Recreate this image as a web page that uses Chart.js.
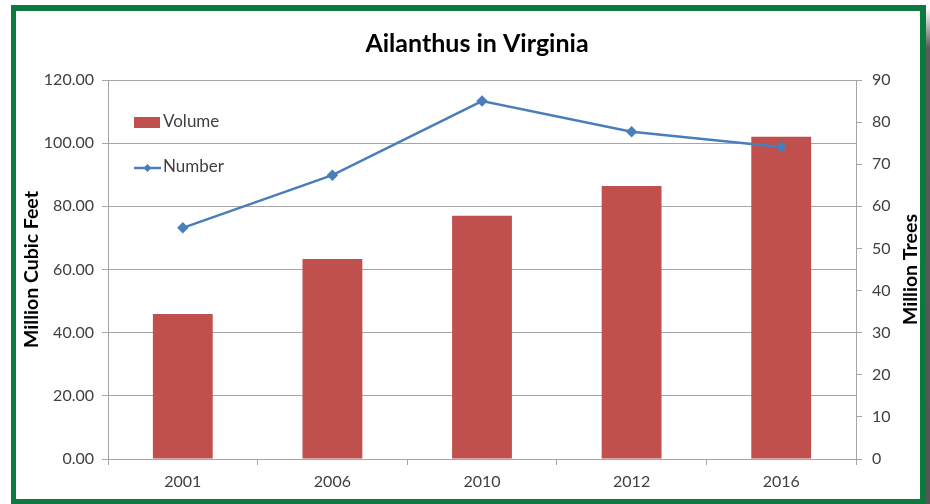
<!DOCTYPE html>
<html>
<head>
<meta charset="utf-8">
<script src="https://cdn.jsdelivr.net/npm/chart.js@4.4.1/dist/chart.umd.min.js"></script>
<style>
    html, body { margin: 0; padding: 0; background: #fff; }
    #wrap { position: relative; width: 930px; height: 504px; overflow: hidden; }
    #frame {
        position: absolute; left: 11px; top: 5px; width: 904px; height: 488px;
        border-style: solid; border-color: #0c7a3e;
        border-width: 6px 6px 5px 5px;
        background: #fff;
    }
    #shadow {
        position: absolute; left: 926px; top: 8px; width: 4px; height: 496px;
        background: linear-gradient(to bottom, #ffffff 0px, #5a5a5a 40px, #555 100%);
    }
    #chart { position: absolute; left: 0; top: 0; }
</style>
</head>
<body>
<div id="wrap">
    <div id="frame"></div>
    <div id="shadow"></div>
    <canvas id="chart" width="930" height="504"></canvas>
</div>
<script>
var years = ['2001', '2006', '2010', '2012', '2016'];
var volume = [45.9, 63.3, 77.0, 86.4, 102.0];      // million cubic feet
var number = [54.9, 67.4, 85.0, 77.7, 74.1];       // million trees

var barColor = '#c0504d';
var lineColor = '#4a7ebb';
var gridColor = '#a6a6a6';
var textColor = '#404040';
var fontFamily = 'Lato, "Open Sans", sans-serif';

function drawVerticalTitle(ctx, text, x, y) {
    ctx.save();
    ctx.font = 'bold 19.5px ' + fontFamily;
    ctx.fillStyle = '#000';
    ctx.textAlign = 'center';
    ctx.textBaseline = 'middle';
    ctx.translate(x, y);
    ctx.rotate(-Math.PI / 2);
    ctx.fillText(text, 0, 0);
    ctx.restore();
}

// legend inside the plot area (top left) plus both axis titles
var innerLegend = {
    id: 'innerLegend',
    afterDraw: function(chart) {
        var ctx = chart.ctx;
        var area = chart.chartArea;
        var x = area.left + 26;
        var sets = chart.data.datasets;
        var bars = sets.find(function(d) { return d.type === 'bar'; });
        var line = sets.find(function(d) { return d.type === 'line'; });
        ctx.save();
        ctx.font = '17px ' + fontFamily;
        ctx.textBaseline = 'middle';

        ctx.fillStyle = bars.backgroundColor;
        ctx.fillRect(x, 117, 26, 11);
        ctx.fillStyle = textColor;
        ctx.fillText(bars.label, x + 29, 122);

        ctx.strokeStyle = line.borderColor;
        ctx.lineWidth = 2.5;
        ctx.beginPath();
        ctx.moveTo(x, 168);
        ctx.lineTo(x + 27, 168);
        ctx.stroke();
        ctx.fillStyle = line.borderColor;
        ctx.beginPath();
        ctx.moveTo(x + 13.5, 164);
        ctx.lineTo(x + 17.5, 168);
        ctx.lineTo(x + 13.5, 172);
        ctx.lineTo(x + 9.5, 168);
        ctx.closePath();
        ctx.fill();
        ctx.fillStyle = textColor;
        ctx.fillText(line.label, x + 29, 167);
        ctx.restore();

        var midY = (area.top + area.bottom) / 2;
        drawVerticalTitle(ctx, 'Million Cubic Feet', 32, midY);
        drawVerticalTitle(ctx, 'Million Trees', 911, midY);
    }
};

function fixWidth(w) {
    return function(scale) {
        scale.width = w;
        scale.paddingTop = 0;
        scale.paddingBottom = 0;
    };
}

new Chart(document.getElementById('chart'), {
    data: {
        labels: years,
        datasets: [
            {
                type: 'line',
                label: 'Number',
                data: number,
                yAxisID: 'y1',
                borderColor: lineColor,
                backgroundColor: lineColor,
                borderWidth: 2.5,
                pointStyle: 'rectRot',
                pointRadius: 4,
                tension: 0,
                order: 0
            },
            {
                type: 'bar',
                label: 'Volume',
                data: volume,
                yAxisID: 'y',
                backgroundColor: barColor,
                barPercentage: 0.4,
                categoryPercentage: 1,
                order: 1
            }
        ]
    },
    plugins: [innerLegend],
    options: {
        responsive: false,
        animation: false,
        layout: { padding: { left: 24, right: 0, top: 0, bottom: 0 } },
        plugins: {
            legend: { display: false },
            tooltip: { enabled: false },
            title: {
                display: true,
                text: 'Ailanthus in Virginia',
                color: '#000',
                font: { family: fontFamily, size: 25, weight: 'bold', lineHeight: 1.2 },
                padding: { top: 29, bottom: 21 }
            }
        },
        scales: {
            x: {
                grid: { drawOnChartArea: false, color: gridColor, tickLength: 6, offset: true },
                border: { color: gridColor },
                ticks: { color: textColor, padding: 7, font: { family: fontFamily, size: 16 } },
                afterFit: function(scale) {
                    scale.height = 45;
                    scale.paddingLeft = 0;
                    scale.paddingRight = 0;
                }
            },
            y: {
                position: 'left',
                min: 0,
                max: 120,
                ticks: {
                    stepSize: 20,
                    color: textColor,
                    padding: 8,
                    font: { family: fontFamily, size: 16 },
                    callback: function(value) {
                        return value.toFixed(2);
                    }
                },
                grid: { color: gridColor, tickLength: 6 },
                border: { color: gridColor },
                afterFit: fixWidth(84)
            },
            y1: {
                position: 'right',
                min: 0,
                max: 90,
                ticks: {
                    stepSize: 10,
                    color: textColor,
                    padding: 10,
                    font: { family: fontFamily, size: 16 }
                },
                grid: { drawOnChartArea: false, color: gridColor, tickLength: 6 },
                border: { color: gridColor },
                afterFit: fixWidth(74)
            }
        }
    }
});
</script>
</body>
</html>
